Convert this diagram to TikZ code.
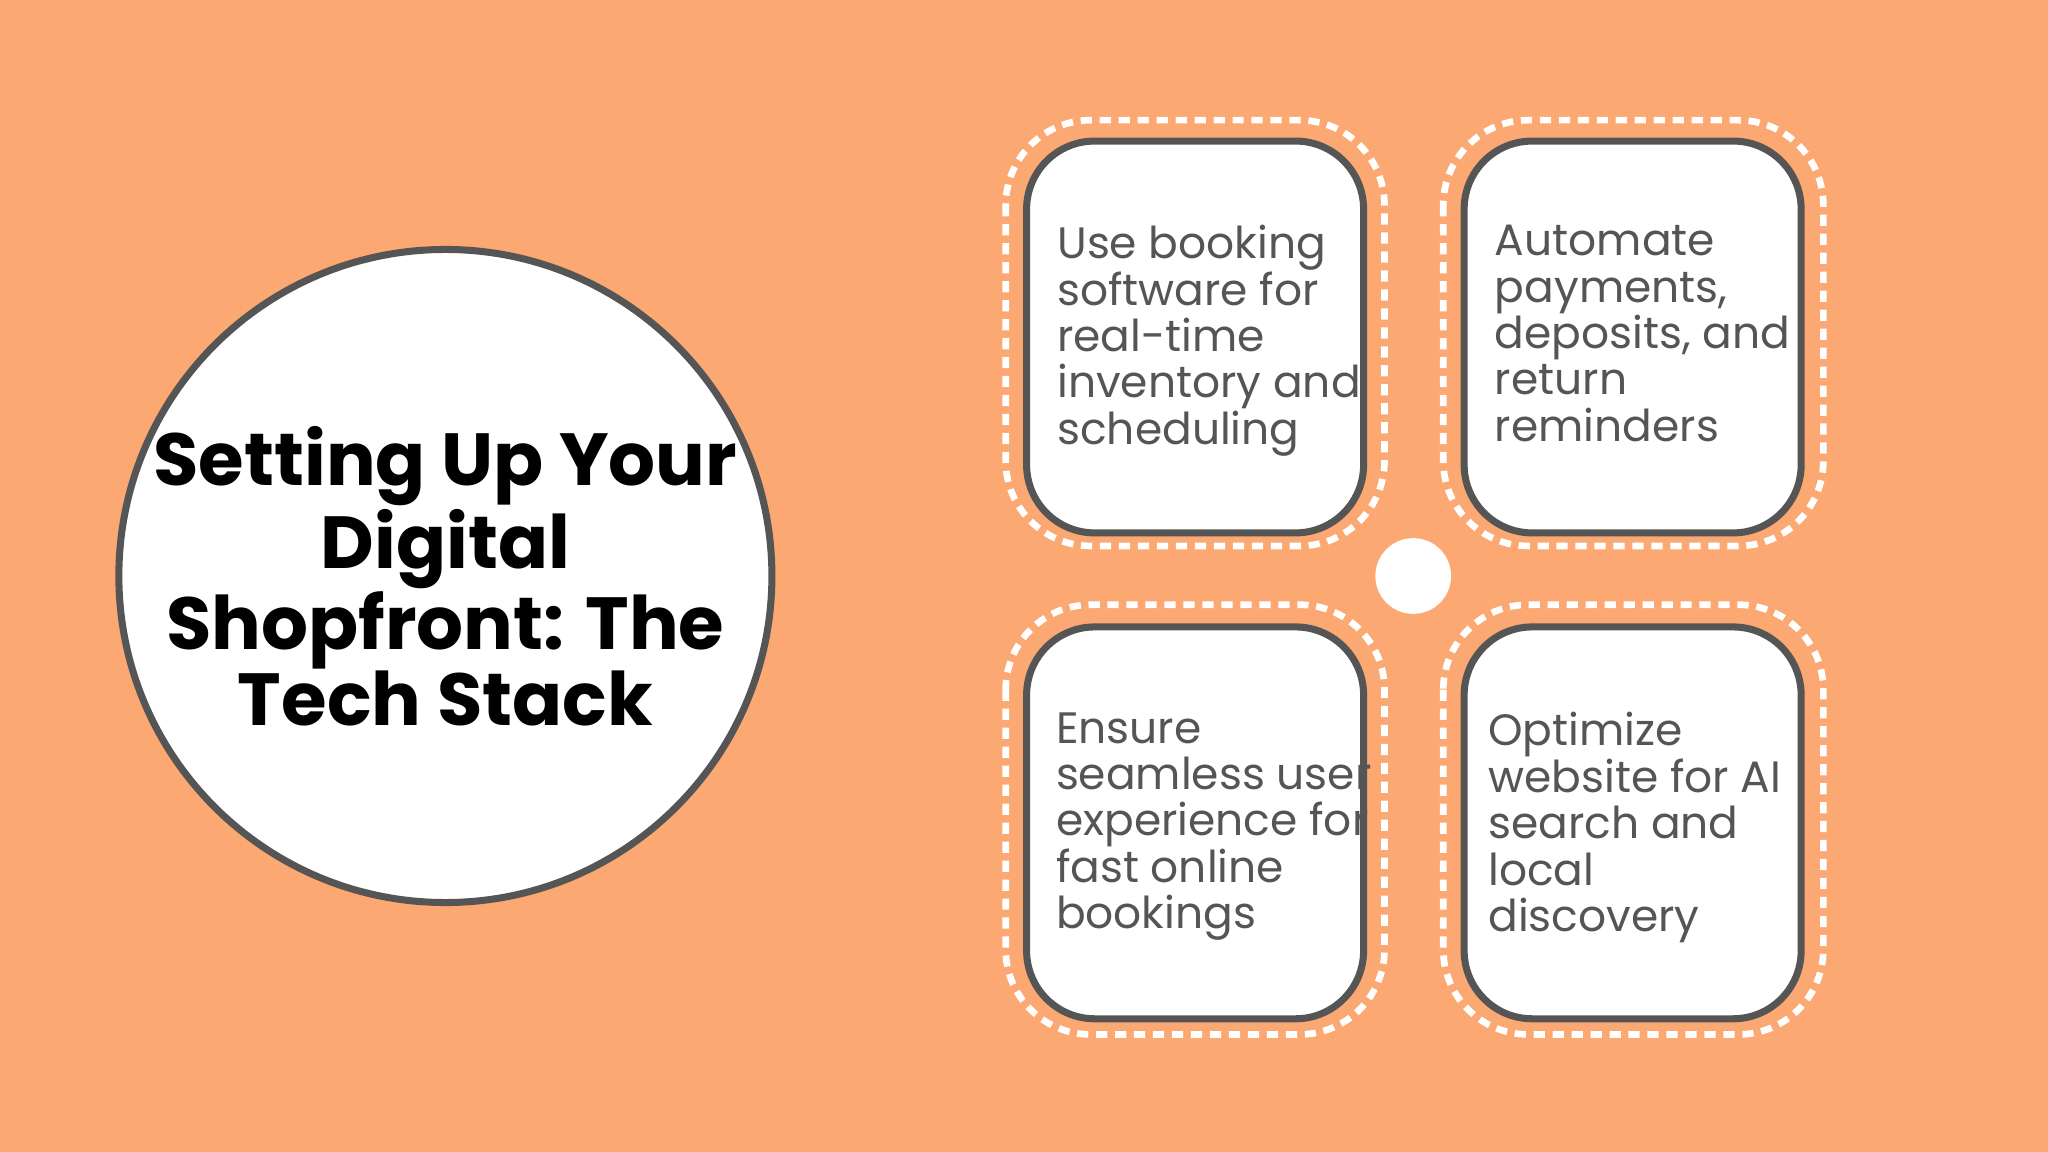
\documentclass[tikz,border=0pt]{standalone}
\usepackage{fontspec}
\setmainfont{Poppins}
\definecolor{bg}{HTML}{FBA872}
\definecolor{edge}{HTML}{555555}
\definecolor{txt}{HTML}{555555}
\begin{document}
\begin{tikzpicture}[x=0.013061cm,y=-0.013061cm,
  card/.style={draw=edge,line width=2pt,fill=white,rounded corners=0.68cm},
  halo/.style={draw=white,line width=1.9pt,dash pattern=on 3.2pt off 2.2pt,rounded corners=0.85cm},
  lab/.style={anchor=north west,inner sep=0pt,text=txt,align=left,font=\fontsize{12.5}{13.2}\selectfont}]
\fill[bg] (0,0) rectangle (1568,882);
\useasboundingbox (0,0) rectangle (1568,882);
\node[circle,draw=edge,line width=2pt,fill=white,minimum size=500*0.013061cm] (hub) at (341,441) {};
\node[align=center,font=\fontsize{21}{21.5}\selectfont\bfseries] (title) at (341,441) {Setting Up Your\\Digital\\Shopfront: The\\Tech Stack};
\node[circle,fill=white,minimum size=58*0.013061cm,inner sep=0pt] (dot) at (1082,441) {};
% cards
\draw[halo] (770,92) rectangle (1060,418);
\draw[card] (786,108) rectangle (1044,408);
\draw[halo] (1105,92) rectangle (1396,418);
\draw[card] (1121,108) rectangle (1379,408);
\draw[halo] (770,463) rectangle (1060,792);
\draw[card] (786,480) rectangle (1044,780);
\draw[halo] (1105,463) rectangle (1396,792);
\draw[card] (1121,480) rectangle (1379,780);
\node[lab] (t1) at (809,172) {Use booking\\software for\\real-time\\inventory and\\scheduling};
\node[lab] (t2) at (1144,172) {Automate\\payments,\\deposits, and\\return\\reminders};
\node[lab] (t3) at (808,545) {Ensure\\seamless user\\experience for\\fast online\\bookings};
\node[lab] (t4) at (1139,545) {Optimize\\website for AI\\search and\\local\\discovery};
\end{tikzpicture}
\end{document}
